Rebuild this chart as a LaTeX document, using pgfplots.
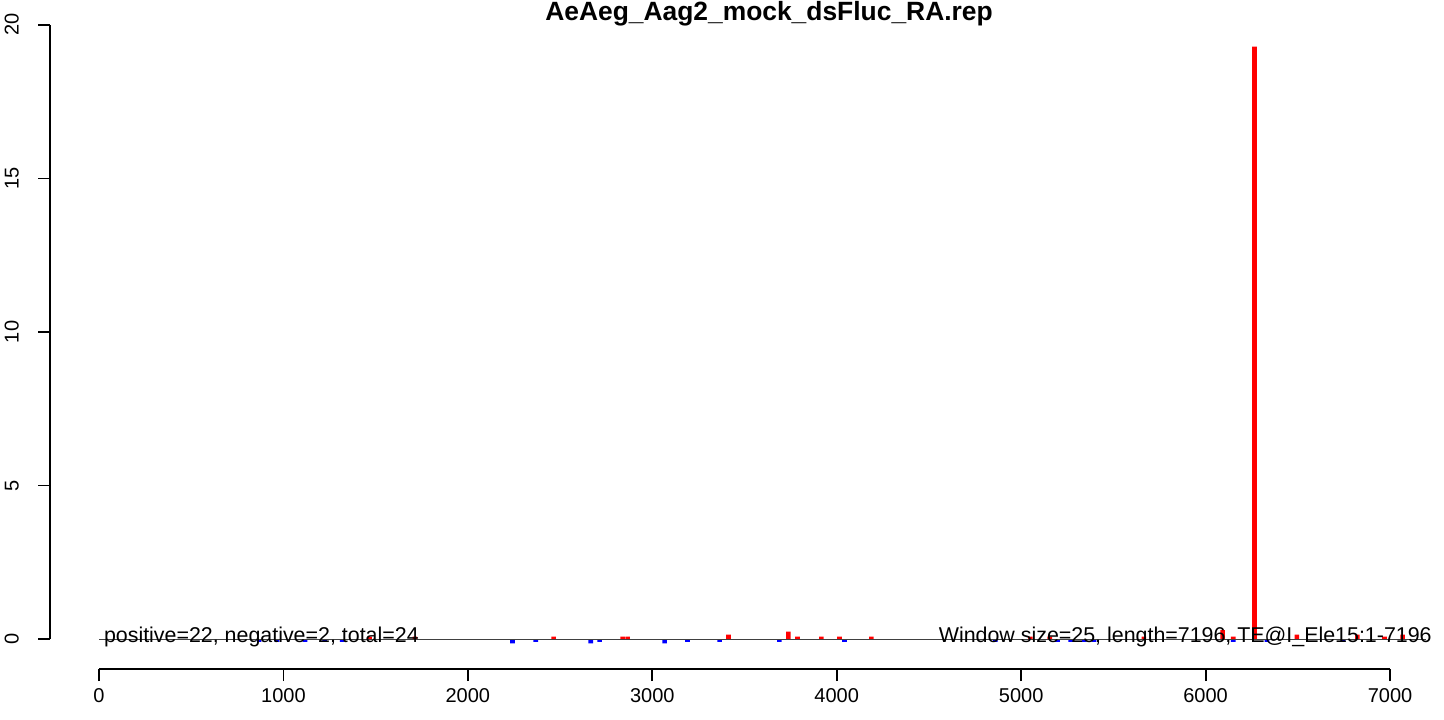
\documentclass[border=0pt]{standalone}
\usepackage{fontspec}
\setmainfont{Liberation Sans}
\usepackage{pgfplots}
\pgfplotsset{compat=1.18}
\begin{document}
\begin{tikzpicture}[x=1pt,y=1pt]
\useasboundingbox (0,0) rectangle (722,359.5);
\begin{axis}[
  at={(25pt,25pt)}, anchor=south west,
  scale only axis, width=697pt, height=334.5pt,
  xmin=-265.7, xmax=7292.7, ymin=-0.977, ymax=20.81,
  axis x line*=bottom, axis y line*=left,
  axis line style={draw=none},
  clip=false,
  xtick={0,1000,2000,3000,4000,5000,6000,7000},
  ytick={0,5,10,15,20},
  scaled x ticks=false, scaled y ticks=false,
  tick align=outside, major tick length=6pt,
  tick style={black, line width=0.9pt},
  /pgf/number format/assume math mode=true,
  /pgf/number format/1000 sep={},
  ticklabel style={font=\fontsize{10}{12}\selectfont},
  yticklabel style={rotate=90, anchor=south},
  yticklabel shift=6pt,
  title={AeAeg\_Aag2\_mock\_dsFluc\_RA.rep},
  every axis title/.style={at={(0.5158,0.969)}, anchor=base, font=\bfseries\fontsize{13.2}{15}\selectfont},
]
% axis lines R-style
\draw[black, line width=0.9pt] (axis cs:0,-0.977) -- (axis cs:7000,-0.977);
\draw[black, line width=0.9pt] (axis cs:-265.7,0) -- (axis cs:-265.7,20);
% positive windows
\addplot[ybar, bar width=25, bar shift=0pt, fill=red, draw=none] coordinates {
(1467,0.075) (1713,0.075) (2465,0.075) (2839,0.075) (2866,0.075)
(3413,0.14) (3738,0.24) (3787,0.075) (3917,0.075) (4015,0.075)
(4188,0.075) (5050,0.075) (5155,0.075) (5665,0.075) (6092,0.29)
(6150,0.075) (6265,19.29) (6495,0.14) (6823,0.14) (6970,0.075) (7068,0.14)
};
% negative windows
\addplot[ybar, bar width=25, bar shift=0pt, fill=blue, draw=none] coordinates {
(868,-0.09) (965,-0.09) (1117,-0.09) (1223,-0.09) (1318,-0.09)
(2242,-0.14) (2368,-0.09) (2666,-0.14) (2714,-0.09) (3067,-0.14)
(3191,-0.09) (3365,-0.09) (3689,-0.09) (4042,-0.09) (4860,-0.09)
(5197,-0.09) (5268,-0.09) (5343,-0.09) (5395,-0.09) (6150,-0.09)
(6333,-0.09) (6745,-0.09)
};
\draw[black!75, line width=0.5pt] (axis cs:0,0) -- (axis cs:7196,0);
\node[anchor=base west, inner sep=0pt, font=\fontsize{10.7}{12.8}\selectfont] at (axis cs:25,-0.098) {positive=22, negative=2, total=24};
\node[anchor=base east, inner sep=0pt, font=\fontsize{10.7}{12.8}\selectfont] at (axis cs:7228,-0.098) {Window size=25, length=7196, TE@I\_Ele15:1-7196};
\end{axis}
\end{tikzpicture}
\end{document}
